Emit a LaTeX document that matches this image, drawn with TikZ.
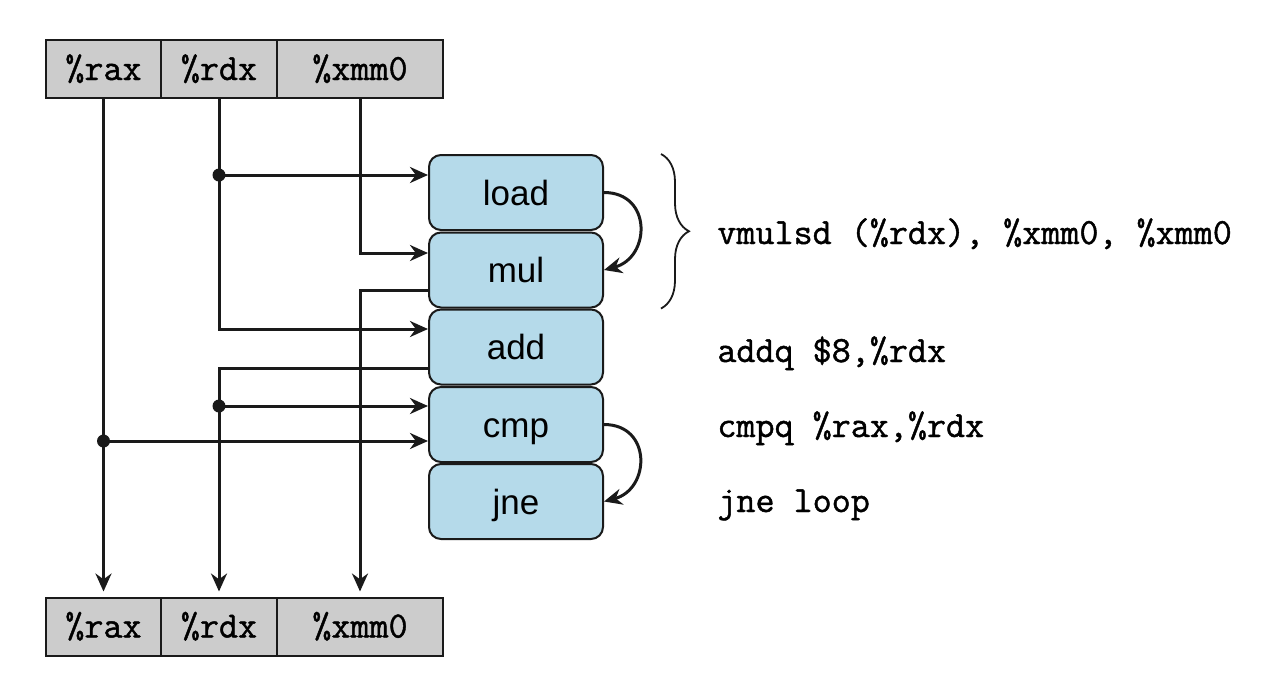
\documentclass[tikz,border=0pt]{standalone}
\usepackage{fontspec}
\setmonofont{Latin Modern Mono}[FakeBold=1.2]
\newfontfamily\boxfont{Liberation Sans}
\usetikzlibrary{arrows.meta,decorations.pathreplacing,calc}
\definecolor{regfill}{HTML}{CCCCCC}
\definecolor{opfill}{HTML}{B5DAEA}
\definecolor{ink}{HTML}{1A1A1A}
\begin{document}
\begin{tikzpicture}[x=0.5pt,y=-0.5pt,
 reg/.style={draw=ink,fill=regfill,line width=1pt,inner sep=0pt,minimum height=29pt,
   text height=13pt,text depth=2pt,font=\fontsize{18.5}{20}\selectfont\ttfamily},
 op/.style={draw=ink,fill=opfill,line width=1pt,rounded corners=6pt,minimum width=87pt,
   minimum height=37.5pt,inner sep=0pt,text height=12.5pt,text depth=0pt,
   font=\fontsize{17.5}{20}\selectfont\boxfont},
 wire/.style={draw=ink,line width=1.5pt},
 arr/.style={wire,-{Stealth[length=9pt,width=8pt]}},
 dot/.style={circle,fill=ink,inner sep=0pt,minimum size=6.5pt},
 asm/.style={anchor=base west,inner sep=0pt,font=\fontsize{18.5}{20}\selectfont\ttfamily}]
\useasboundingbox (0,0) rectangle (1276,682);
% register bars
\node[reg,minimum width=57.5pt] (raxT) at (103.5,69) {\%rax};
\node[reg,minimum width=58pt] (rdxT) at (219,69) {\%rdx};
\node[reg,minimum width=83pt] (xmmT) at (360,69) {\%xmm0};
\node[reg,minimum width=57.5pt] (raxB) at (103.5,626.5) {\%rax};
\node[reg,minimum width=58pt] (rdxB) at (219,626.5) {\%rdx};
\node[reg,minimum width=83pt] (xmmB) at (360,626.5) {\%xmm0};
% operations
\node[op] (load) at (516,192.5) {load};
\node[op] (mul) at (516,270) {mul};
\node[op] (add) at (516,347) {add};
\node[op] (cmp) at (516,424.5) {cmp};
\node[op] (jne) at (516,501.5) {jne};
% ports
\coordinate (inLoad) at ([yshift=8.75pt]load.west);
\coordinate (inMul) at ([yshift=8.5pt]mul.west);
\coordinate (outMul) at ([yshift=-10pt]mul.west);
\coordinate (inAdd) at ([yshift=9pt]add.west);
\coordinate (outAdd) at ([yshift=-10.5pt]add.west);
\coordinate (inCmpA) at ([yshift=9.25pt]cmp.west);
\coordinate (inCmpB) at ([yshift=-8.25pt]cmp.west);
% wires
\draw[arr,shorten >=2.5pt] (raxT.south) -- (raxB.north);
\draw[arr] (rdxT.south) |- (inAdd);
\draw[arr] (xmmT.south) |- (inMul);
\draw[arr,shorten >=2.5pt] (outMul) -| (xmmB.north);
\draw[arr,shorten >=2.5pt] (outAdd) -| (rdxB.north);
\node[dot] (dLoad) at (inLoad -| rdxT.south) {};
\draw[arr] (dLoad.center) -- (inLoad);
\node[dot] (dCmpA) at (inCmpA -| rdxB.north) {};
\draw[arr] (dCmpA.center) -- (inCmpA);
\node[dot] (dCmpB) at (inCmpB -| raxT.south) {};
\draw[arr] (dCmpB.center) -- (inCmpB);
% dependencies
\draw[arr] (load.east) to[out=0,in=15,looseness=1.6] (mul.east);
\draw[arr] (cmp.east) to[out=0,in=15,looseness=1.6] (jne.east);
% brace
\draw[draw=ink,line width=0.9pt,decorate,decoration={brace,amplitude=14pt}]
  ([xshift=28.5pt]load.north east) -- ([xshift=28.5pt]mul.south east);
% assembly
\node[asm] (t1) at (717,244) {vmulsd (\%rdx), \%xmm0, \%xmm0};
\node[asm] (t2) at (717,362) {addq \$8,\%rdx};
\node[asm] (t3) at (717,437) {cmpq \%rax,\%rdx};
\node[asm] (t4) at (717,512) {jne loop};
\end{tikzpicture}
\end{document}
